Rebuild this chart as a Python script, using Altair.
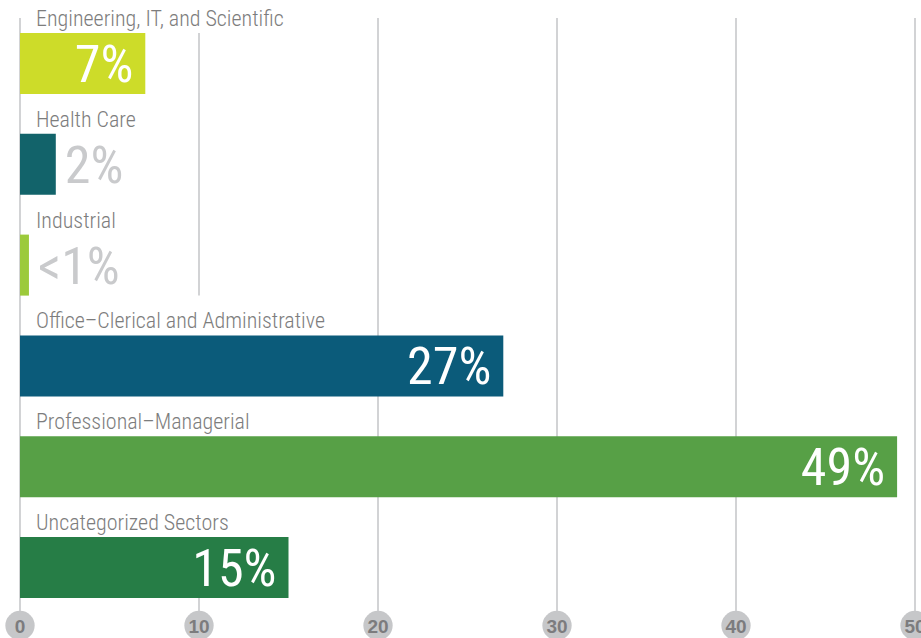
import altair as alt
import pandas as pd

categories = [
    "Engineering, IT, and Scientific",
    "Health Care",
    "Industrial",
    "Office–Clerical and Administrative",
    "Professional–Managerial",
    "Uncategorized Sectors",
]
values = [7, 2, 0.5, 27, 49, 15]
pct_labels = ["7%", "2%", "<1%", "27%", "49%", "15%"]
colors = ["#cddc29", "#12636a", "#9cca3b", "#0b5b7a", "#57a046", "#267d46"]
ticks = [0, 10, 20, 30, 40, 50]

# layout (pixels)
P = 100.8          # row pitch
BAR_TOP = 33
BAR_BOT = 94
LABEL_BASE = 26
PCT_BASE = 82
H = 638

df = pd.DataFrame({
    "cat": categories,
    "value": values,
    "pct": pct_labels,
    "color": colors,
    "row": list(range(len(categories))),
})
tick_df = pd.DataFrame({"tick": ticks, "txt": [str(t) for t in ticks]})

xscale = alt.Scale(domain=[0, 50], nice=False, zero=True)
yscale = alt.Scale(domain=[0, H], range=[0, H], nice=False, zero=False)

base = alt.Chart(df).transform_calculate(
    zero="0",
    top=f"datum.row * {P} + {BAR_TOP}",
    bot=f"datum.row * {P} + {BAR_BOT}",
    lab=f"datum.row * {P} + {LABEL_BASE}",
    pcty=f"datum.row * {P} + {PCT_BASE}",
)

tick_base = alt.Chart(tick_df).transform_calculate(
    gtop="18", gbot="611", cy="625.5"
)

grid = tick_base.mark_rule(color="#d2d3d5", strokeWidth=2).encode(
    x=alt.X("tick:Q", scale=xscale, axis=None),
    y=alt.Y("gtop:Q", scale=yscale, axis=None),
    y2="gbot:Q",
)

# white backgrounds behind label areas (hide grid where the original does)
mask_df = pd.DataFrame({
    "x0": [0.15, 0.15],
    "x1": [15.5, 12.0],
    "y0": [0, 2 * P + BAR_BOT],
    "y1": [BAR_TOP, 5 * P + BAR_TOP],
})
masks = alt.Chart(mask_df).mark_rect(color="white").encode(
    x=alt.X("x0:Q", scale=xscale, axis=None),
    x2="x1:Q",
    y=alt.Y("y0:Q", scale=yscale, axis=None),
    y2="y1:Q",
)

bars = base.mark_rect().encode(
    x=alt.X("zero:Q", scale=xscale, axis=None),
    x2="value:Q",
    y=alt.Y("top:Q", scale=yscale, axis=None),
    y2="bot:Q",
    color=alt.Color("color:N", scale=None, legend=None),
)

label_font = "Roboto Condensed, Liberation Sans Narrow, DejaVu Sans Condensed, sans-serif"
cat_text = base.mark_text(
    align="left", baseline="alphabetic", dx=16, fontSize=22, fontWeight=300,
    font=label_font, color="#7d7d7d",
).encode(
    x=alt.X("zero:Q", scale=xscale, axis=None),
    y=alt.Y("lab:Q", scale=yscale, axis=None),
    text="cat:N",
)

pct_font = "Roboto Condensed, Liberation Sans Narrow, DejaVu Sans Condensed, sans-serif"
pct_in = base.transform_filter("datum.value >= 5").mark_text(
    align="right", baseline="alphabetic", dx=-12, fontSize=52,
    font=pct_font, color="white",
).encode(
    x=alt.X("value:Q", scale=xscale, axis=None),
    y=alt.Y("pcty:Q", scale=yscale, axis=None),
    text="pct:N",
)
pct_out = base.transform_filter("datum.value < 5").mark_text(
    align="left", baseline="alphabetic", dx=9, fontSize=52,
    font=pct_font, color="#c9cacc",
).encode(
    x=alt.X("value:Q", scale=xscale, axis=None),
    y=alt.Y("pcty:Q", scale=yscale, axis=None),
    text="pct:N",
)

circles = tick_base.mark_point(filled=True, opacity=1, size=860, color="#c6c7c9").encode(
    x=alt.X("tick:Q", scale=xscale, axis=None),
    y=alt.Y("cy:Q", scale=yscale, axis=None),
)
tick_text = tick_base.mark_text(
    fontSize=19, fontWeight="bold", font="Liberation Sans, Arial, sans-serif",
    color="#7c7c7e", baseline="middle", align="center", dy=1,
).encode(
    x=alt.X("tick:Q", scale=xscale, axis=None),
    y=alt.Y("cy:Q", scale=yscale, axis=None),
    text="txt:N",
)

chart = alt.layer(grid, masks, bars, cat_text, pct_in, pct_out, circles, tick_text).properties(
    width=895,
    height=H,
    autosize=alt.AutoSizeParams(type="none"),
    padding={"left": 20, "top": 0, "right": 6, "bottom": 0},
).configure_view(stroke=None)

chart.save("out.html", embed_options={"renderer": "svg", "actions": False})
